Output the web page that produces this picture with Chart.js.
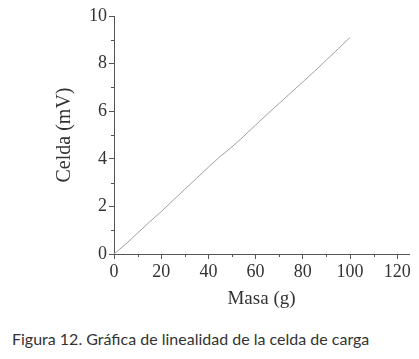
<!DOCTYPE html>
<html>
<head>
<meta charset="utf-8">
<script src="https://cdn.jsdelivr.net/npm/chart.js@4"></script>
<style>
  body { margin: 0; background: #fff; width: 419px; height: 359px; overflow: hidden; position: relative; }
  #wrap { position: absolute; left: 0; top: 0; width: 419px; height: 318px; }
  #caption { position: absolute; left: 12px; top: 329px; font-family: Lato, "Open Sans", sans-serif; font-size: 16px; color: #333; white-space: nowrap; }
</style>
</head>
<body>
<div id="wrap"><canvas id="chart"></canvas></div>
<div id="caption">Figura 12. Gráfica de linealidad de la celda de carga</div>
<script>
// Linealidad de la celda de carga

const masa = [0, 5, 10, 15, 20, 25, 30, 35, 40, 45, 50, 55, 60, 65, 70, 75, 80, 85, 90, 95, 100];
const celda = [0, 0.42, 0.88, 1.34, 1.78, 2.25, 2.72, 3.18, 3.65, 4.1, 4.5, 4.95, 5.42, 5.88, 6.33, 6.78, 7.23, 7.68, 8.15, 8.62, 9.1];

const xTicks = [0, 20, 40, 60, 80, 100, 120];
const yTicks = [0, 2, 4, 6, 8, 10];

const axisColor = '#555';
const serif = 'Liberation Serif';

// small minor ticks between the labelled ones
const minorTicks = {
  id: 'minorTicks',
  afterDraw(chart) {
    const ctx = chart.ctx;
    const xs = chart.scales.x;
    const ys = chart.scales.y;
    ctx.save();
    ctx.strokeStyle = axisColor;
    ctx.lineWidth = 1;
    ctx.beginPath();
    for (let v = 10; v < 120; v += 20) {
      const px = Math.round(xs.getPixelForValue(v)) + 0.5;
      ctx.moveTo(px, ys.bottom);
      ctx.lineTo(px, ys.bottom + 3);
    }
    for (let v = 1; v < 10; v += 2) {
      const py = Math.round(ys.getPixelForValue(v)) + 0.5;
      ctx.moveTo(xs.left, py);
      ctx.lineTo(xs.left - 3, py);
    }
    ctx.stroke();
    ctx.restore();
  }
};

const chartCtx = document.getElementById('chart');

new Chart(chartCtx, {
  type: 'scatter',

  data: {
    datasets: [{
      data: masa.map((m, i) => ({ x: m, y: celda[i] })),
      showLine: true,
      borderColor: '#a0a0a0',
      borderWidth: 1,
      pointRadius: 0,
      tension: 0
    }]
  },

  options: {
    responsive: true,
    maintainAspectRatio: false,
    animation: false,
    layout: {
      padding: { top: 16, right: 10, left: 0, bottom: 0 }
    },

    plugins: {
      legend: { display: false },
      tooltip: { enabled: false }
    },

    scales: {
      x: {
        type: 'linear',
        min: 0,
        max: 125,
        afterBuildTicks: s => { s.ticks = xTicks.map(v => ({ value: v })); },
        afterFit: s => { s.height = 64; },
        grid: { drawOnChartArea: false, tickLength: 5, tickColor: axisColor },
        border: { color: axisColor },
        ticks: {
          color: '#333',
          padding: 2,
          maxRotation: 0,
          font: { family: serif, size: 18 }
        },
        title: {
          display: true,
          text: 'Masa (g)',
          color: '#333',
          padding: { top: 4, bottom: 8 },
          font: { family: serif, size: 19 }
        }
      },

      y: {
        min: 0,
        max: 10,
        afterBuildTicks: s => { s.ticks = yTicks.map(v => ({ value: v })); },
        afterFit: s => { s.width = 114; },
        grid: { drawOnChartArea: false, tickLength: 5, tickColor: axisColor },
        border: { color: axisColor },
        ticks: {
          color: '#333',
          padding: 2,
          font: { family: serif, size: 18 }
        },
        title: {
          display: true,
          text: 'Celda (mV)',
          color: '#333',
          padding: { top: 53, bottom: 0 },
          font: { family: serif, size: 20 }
        }
      }
    }
  },

  plugins: [minorTicks]
});
</script>
</body>
</html>
